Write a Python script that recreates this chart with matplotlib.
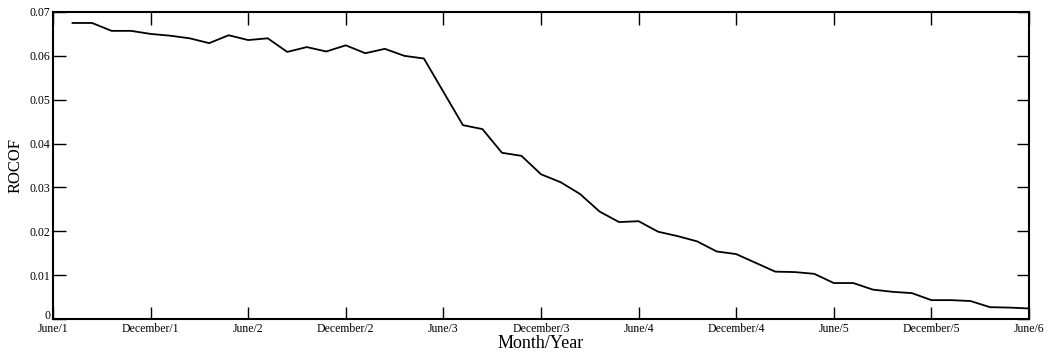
import matplotlib
matplotlib.use("Agg")
import matplotlib.pyplot as plt
import matplotlib.transforms as mtransforms
import numpy as np

# 50 samples spread evenly over five years (months since June/1)
months = np.arange(1, 51) * 1.2
rocof = [0.0675, 0.0675, 0.0657, 0.0657, 0.0650, 0.0646, 0.0640, 0.0629,
         0.0647, 0.0636, 0.0640, 0.0609, 0.0620, 0.0610, 0.0624, 0.0606,
         0.0616, 0.0600, 0.0594, 0.0518, 0.0442, 0.0433, 0.0379, 0.0372,
         0.0330, 0.0312, 0.0285, 0.0245, 0.0221, 0.0223, 0.0199, 0.0189,
         0.0177, 0.0154, 0.0148, 0.0128, 0.0108, 0.0107, 0.0103, 0.0082,
         0.0082, 0.0067, 0.0062, 0.0059, 0.0043, 0.0043, 0.0041, 0.0027,
         0.0026, 0.0024]

tick_months = np.arange(0, 61, 6)
tick_labels = ["June/1", "December/1", "June/2", "December/2", "June/3",
               "December/3", "June/4", "December/4", "June/5", "December/5",
               "June/6"]
y_ticks = [0, 0.01, 0.02, 0.03, 0.04, 0.05, 0.06, 0.07]
y_labels = ["0", "0.01", "0.02", "0.03", "0.04", "0.05", "0.06", "0.07"]

plt.rcParams["font.family"] = ["Liberation Serif", "DejaVu Serif"]

fig = plt.figure(figsize=(10.51, 3.56), dpi=100, facecolor="white")
ax = fig.add_axes([53 / 1051, 1 - 319 / 356, 976 / 1051, 307 / 356])

ax.plot(months, rocof, color="black", linewidth=1.3)

ax.set_xlim(0, 60)
ax.set_ylim(0, 0.07)
ax.set_xticks(tick_months)
ax.set_xticklabels(tick_labels)
ax.set_yticks(y_ticks)
ax.set_yticklabels(y_labels)

for s in ax.spines.values():
    s.set_linewidth(1.5)
    s.set_color("black")
ax.tick_params(direction="in", length=9, width=1.0, labelsize=8.5,
               top=True, right=True, pad=2)
ax.tick_params(axis="x", pad=3)

# lift the "0" a little so it clears "June/1" below it
zero = ax.get_yticklabels()[0]
zero.set_transform(zero.get_transform() +
                   mtransforms.ScaledTranslation(0, 3 / 72, fig.dpi_scale_trans))

ax.set_xlabel("Month/Year", fontsize=13, labelpad=0)
ax.set_ylabel("ROCOF", fontsize=12, labelpad=4)

fig.savefig("out.png", dpi=100, facecolor="white")
